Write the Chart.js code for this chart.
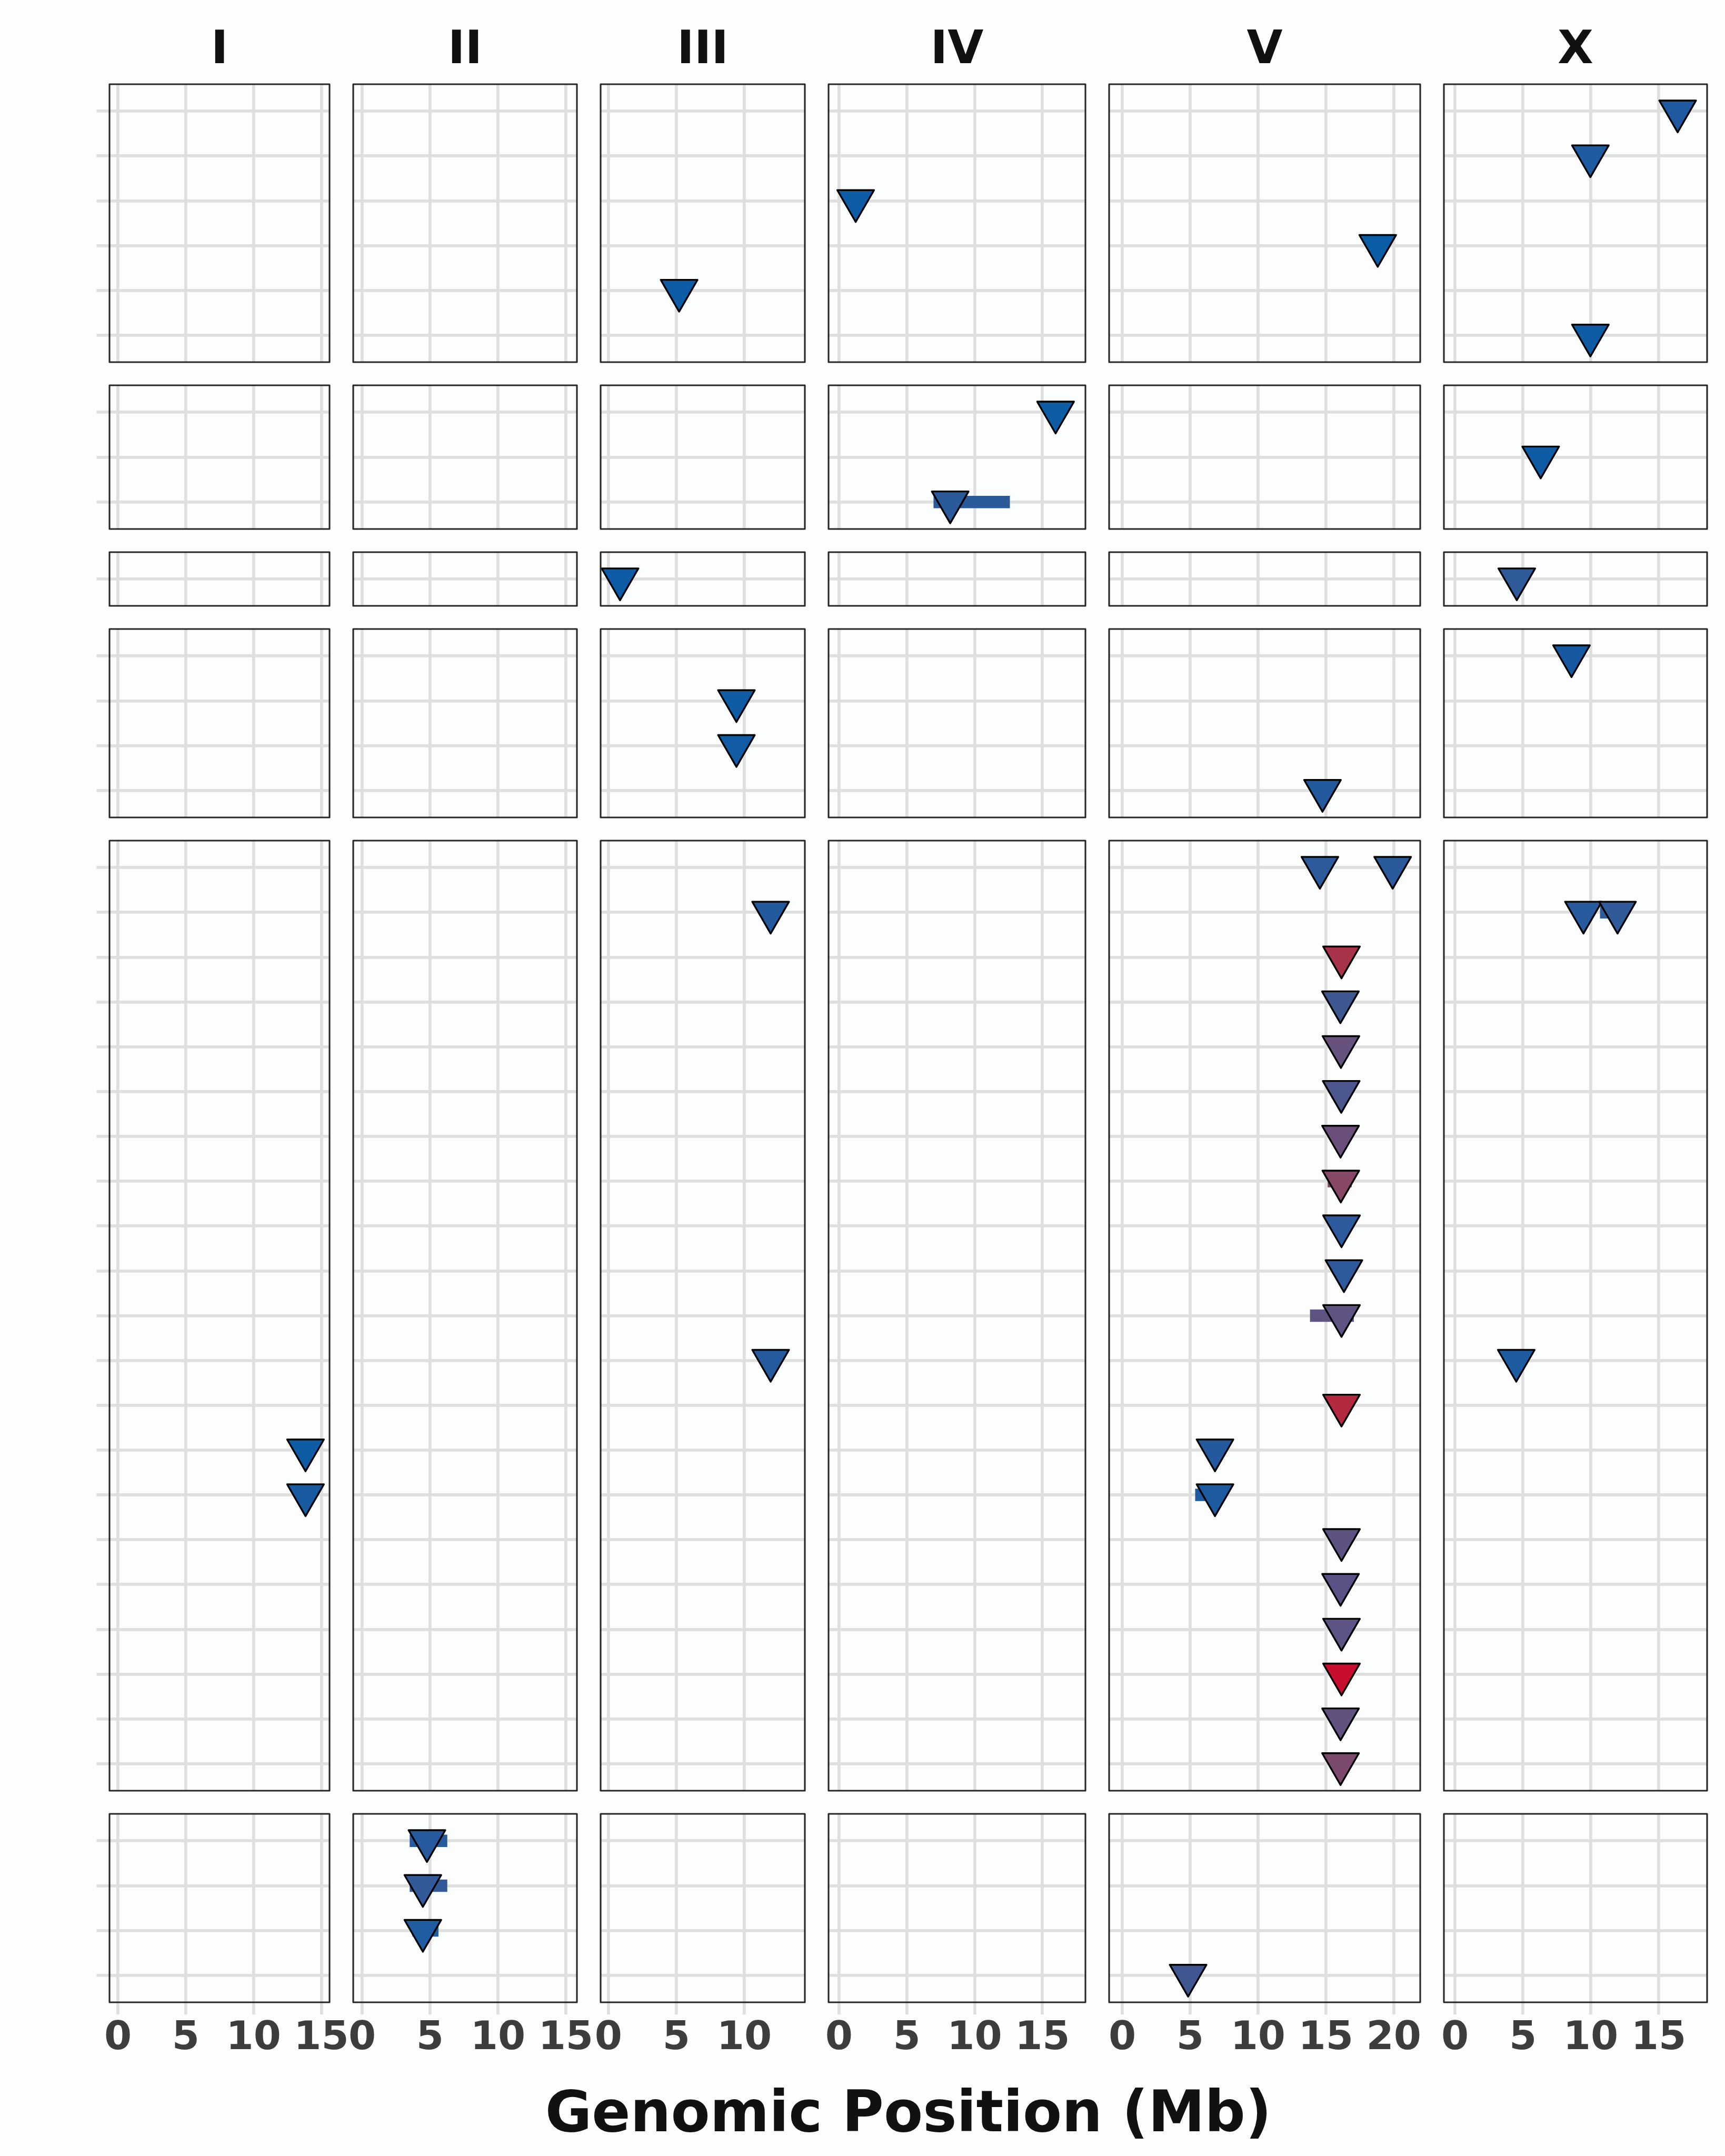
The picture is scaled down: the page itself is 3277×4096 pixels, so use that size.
<!DOCTYPE html>
<html>
<head>
<meta charset="utf-8">
<script src="https://cdn.jsdelivr.net/npm/chart.js@4.4.1/dist/chart.umd.min.js"></script>
<style>
html,body{margin:0;padding:0;background:#FBFEFC;width:3277px;height:4096px;overflow:hidden;}
#wrap{position:relative;width:3277px;height:4096px;}
#wrap canvas{position:absolute;}
#xtitle{position:absolute;font-family:"DejaVu Sans";font-weight:bold;font-size:108px;line-height:108px;white-space:nowrap;color:#111111;transform:translateX(-50%);}
</style>
</head>
<body>
<div id="wrap"></div>
<script>
// ---------------- DATA ----------------
const chromosomes   = ['I', 'II', 'III', 'IV', 'V', 'X'];
const chromAxisMin  = [-0.62, -0.66, -0.58, -0.77, -0.97, -0.82];
const chromAxisMax  = [15.60, 15.82, 14.46, 18.17, 21.95, 18.57];
const xTickValues   = [0, 5, 10, 15, 20];
const traitsPerGroup = [6, 3, 1, 4, 21, 4];
const xAxisTitle = 'Genomic Position (Mb)';

// QTL peaks (group = panel row, trait = row inside the group, counted from the top)
const peakGroup = [0,0,0,0,0,0, 1,1,1, 2,2, 3,3,3,3,
  4,4,4,4,4,4,4,4,4,4,4,4,4,4,4,4,4,4,4,4,4,4,4,4,4,4,4,
  5,5,5,5];
const peakChrom = ['III','IV','V','X','X','X', 'IV','IV','X', 'III','X', 'III','III','V','X',
  'I','I','III','III','V','V','V','V','V','V','V','V','V','V','V','V','V','V','V','V','V','V','V','V','X','X','X',
  'II','II','II','V'];
const peakTrait = [5,3,4,1,2,6, 1,3,2, 1,1, 2,3,4,1,
  14,15,2,12,1,1,3,4,5,6,7,8,9,10,11,13,14,15,16,17,18,19,20,21,2,2,12,
  1,2,3,4];
const peakPos = [5.2,1.23,18.82,16.4,9.97,9.97, 15.97,8.2,6.31, 0.85,4.55, 9.42,9.42,14.75,8.58,
  13.83,13.83,11.94,11.94,14.56,19.92,16.15,16.07,16.11,16.13,16.08,16.1,16.15,16.33,16.15,16.15,6.83,6.83,16.15,16.08,16.15,16.15,16.08,16.08,9.46,11.97,4.51,
  4.77,4.47,4.47,4.85];
const peakFill = ['#0E5CA5','#0E5CA5','#0B5DA6','#1F5AA0','#1F5BA0','#0E5CA4',
  '#0E5CA4','#2B5A9B','#0F5BA4',
  '#0E5CA5','#2E5A9A',
  '#0E5CA4','#115CA3','#23599D','#1659A1',
  '#0F5CA5','#195BA1','#23599D','#255A9C','#2D5A9B','#2A5A9C','#A8344A','#3D5891','#66527D','#4B578D','#6A4F7A','#874767','#2D5A9C','#2E5A9C','#5F5383','#B3293F','#24599E','#1D5BA1','#5D5282','#5A5285','#5D5384','#C80D2E','#62507F','#7C4A6D','#275B9D','#305A99','#1E5CA1',
  '#275A9C','#335A98','#1F5CA0','#3F5690'];

// confidence intervals
const ciGroup = [1, 4, 4, 4, 4, 5, 5, 5];
const ciChrom = ['IV','V','V','V','X','II','II','II'];
const ciTrait = [3, 8, 11, 15, 2, 1, 2, 3];
const ciStart = [6.97, 15.13, 13.83, 5.37, 10.68, 3.50, 3.50, 3.70];
const ciEnd   = [12.60, 16.90, 17.06, 7.40, 12.30, 6.27, 6.27, 5.62];
const ciFill  = ['#2B5A9B','#874767','#5F5383','#1D5BA1','#305A99','#275A9C','#335A98','#1F5CA0'];

// ---------------- LAYOUT / STYLE ----------------
const GRID = '#DFDFDF', GRID_W = 5.7;
const BORDER = '#262626', BORDER_W = 3.1;
const PANEL_LEFT = 207.5, PANEL_TOP = 160, PANEL_BOTTOM = 3804;
const COL_GAP = 44.8, ROW_GAP = 44.2;
const PX_PER_MB = 25.8;
const Y_TICK_LEN = 24.6, X_TICK_LEN = 23.2, X_AXIS_H = 140;
const POINT_R = 40.3, POINT_BW = 3.4, CI_W = 23.5;
const PAD = 4;

Chart.defaults.font.family = 'DejaVu Sans';

const colLeft = [], colWidth = [];
{
  let x = PANEL_LEFT;
  chromosomes.forEach((c, i) => {
    const w = (chromAxisMax[i] - chromAxisMin[i]) * PX_PER_MB;
    colLeft.push(x); colWidth.push(w); x += w + COL_GAP;
  });
}
const rowTop = [], rowHeight = [];
{
  const units = traitsPerGroup.reduce((a, n) => a + n + 0.2, 0);
  const unit = (PANEL_BOTTOM - PANEL_TOP - ROW_GAP * (traitsPerGroup.length - 1)) / units;
  let y = PANEL_TOP;
  traitsPerGroup.forEach(n => { const h = (n + 0.2) * unit; rowTop.push(y); rowHeight.push(h); y += h + ROW_GAP; });
}

const panelBorder = {
  id: 'panelBorder',
  beforeDatasetsDraw(chart) { chart.ctx.lineJoin = 'round'; },
  afterDraw(chart) {
    const {ctx, chartArea: a} = chart;
    ctx.save();
    ctx.strokeStyle = BORDER; ctx.lineWidth = BORDER_W;
    ctx.strokeRect(a.left, a.top, a.right - a.left, a.bottom - a.top);
    ctx.restore();
  }
};

const wrap = document.getElementById('wrap');
const lastRow = traitsPerGroup.length - 1;

function makePanel(r, c) {
  const chrom = chromosomes[c];
  const n = traitsPerGroup[r];
  const xmin = chromAxisMin[c], xmax = chromAxisMax[c];
  const L = Math.round(colLeft[c]);
  const W = Math.round(colLeft[c] + colWidth[c]) - L;
  const T = Math.round(rowTop[r]);
  const H = Math.round(rowTop[r] + rowHeight[r]) - T;
  const isBottom = r === lastRow, isLeft = c === 0, isTop = r === 0;
  const yAxisW = isLeft ? Y_TICK_LEN : 0;
  const titleH = isTop ? PANEL_TOP : 0;
  const xAxisH = isBottom ? X_AXIS_H : 0;
  const side = isBottom ? 60 : PAD;
  const padT = isTop ? 0 : PAD;
  const padB = isBottom ? 0 : PAD;

  const cLeft = Math.round(L - yAxisW - side);
  const cTop = T - titleH - padT;
  const cW = Math.round(L + W + side) - cLeft;
  const cH = H + titleH + xAxisH + padT + padB;
  const padL = L - cLeft - yAxisW;
  const padR = cW - padL - yAxisW - W;

  const canvas = document.createElement('canvas');
  canvas.width = cW; canvas.height = cH;
  canvas.style.left = cLeft + 'px'; canvas.style.top = cTop + 'px';
  canvas.style.width = cW + 'px'; canvas.style.height = cH + 'px';
  wrap.appendChild(canvas);

  const datasets = [];
  ciChrom.forEach((ch, i) => {
    if (ch === chrom && ciGroup[i] === r) {
      datasets.push({
        data: [{x: ciStart[i], y: ciTrait[i]}, {x: ciEnd[i], y: ciTrait[i]}],
        showLine: true, borderColor: ciFill[i], borderWidth: CI_W, borderCapStyle: 'butt',
        pointRadius: 0, order: 2
      });
    }
  });
  const pts = [], cols = [];
  peakChrom.forEach((ch, i) => {
    if (ch === chrom && peakGroup[i] === r) { pts.push({x: peakPos[i], y: peakTrait[i]}); cols.push(peakFill[i]); }
  });
  datasets.push({
    data: pts, pointStyle: 'triangle', pointRotation: 180, pointRadius: POINT_R,
    pointBackgroundColor: cols, pointBorderColor: '#000000', pointBorderWidth: POINT_BW,
    showLine: false, order: 1
  });

  const titleFont = 88, titleLH = 1.2, titlePadTop = 44.8;

  new Chart(canvas, {
    type: 'scatter',
    data: { datasets },
    options: {
      responsive: false, animation: false, devicePixelRatio: 1, events: [],
      layout: { autoPadding: false, padding: { left: padL, right: padR, top: padT, bottom: padB } },
      plugins: {
        legend: { display: false }, tooltip: { enabled: false }, colors: { enabled: false },
        title: isTop ? {
          display: true, text: chrom, fullSize: false, color: '#111111',
          font: { family: 'DejaVu Sans', weight: 'bold', size: titleFont, lineHeight: titleLH },
          padding: { top: titlePadTop, bottom: titleH - titlePadTop - titleFont * titleLH }
        } : { display: false }
      },
      scales: {
        x: {
          type: 'linear', position: 'bottom', min: xmin, max: xmax,
          afterBuildTicks: s => { s.ticks = xTickValues.filter(v => v >= xmin && v <= xmax).map(v => ({value: v})); },
          afterFit: s => { s.height = xAxisH; s.paddingLeft = 0; s.paddingRight = 0; },
          grid: { color: GRID, lineWidth: GRID_W, drawTicks: isBottom, tickLength: X_TICK_LEN },
          border: { display: false },
          ticks: {
            display: isBottom, autoSkip: false, maxRotation: 0, minRotation: 0, padding: 9,
            color: '#3D3D3D', callback: v => String(v),
            font: { family: 'DejaVu Sans', weight: 'bold', size: 75, lineHeight: 1 }
          }
        },
        y: {
          type: 'linear', position: 'left', reverse: true, min: 0.4, max: n + 0.6,
          afterBuildTicks: s => { s.ticks = Array.from({length: n}, (_, k) => ({value: k + 1})); },
          afterFit: s => { s.width = yAxisW; s.paddingTop = 0; s.paddingBottom = 0; },
          grid: { color: GRID, lineWidth: GRID_W, drawTicks: isLeft, tickLength: Y_TICK_LEN },
          border: { display: false },
          ticks: { display: false }
        }
      }
    },
    plugins: [panelBorder]
  });
}

for (let r = 0; r < traitsPerGroup.length; r++) {
  for (let c = 0; c < chromosomes.length; c++) makePanel(r, c);
}

const t = document.createElement('div');
t.id = 'xtitle';
t.textContent = xAxisTitle;
t.style.left = ((colLeft[0] + colLeft[5] + colWidth[5]) / 2) + 'px';
t.style.top = '3958px';
wrap.appendChild(t);
</script>
</body>
</html>
